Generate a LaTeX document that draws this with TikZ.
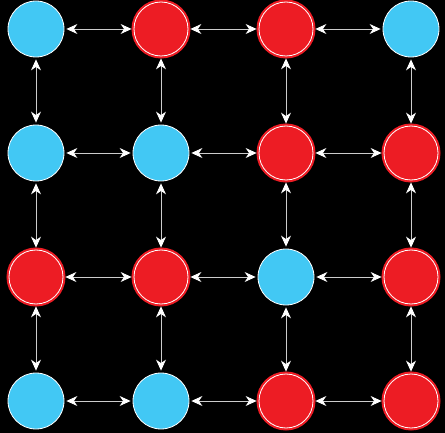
\documentclass[tikz,border=0pt]{standalone}
\usepackage{tikz}
\usetikzlibrary{arrows.meta}

\definecolor{cellred}{RGB}{237,28,36}
\definecolor{cellblue}{RGB}{66,200,244}

\tikzset{
  blueball/.style={circle, inner sep=0pt, minimum size=56pt, fill=cellblue,
    draw=white, line width=0.8pt},
  redball/.style={circle, inner sep=0pt, minimum size=54pt, fill=cellred,
    draw=white, line width=0.8pt, preaction={draw=cellred, line width=5pt}},
  link/.style={draw=white!80!black, line width=0.9pt,
    {Stealth[length=11pt, width=10pt, inset=3.5pt, color=white]}-{Stealth[length=11pt, width=10pt, inset=3.5pt, color=white]},
    shorten <=2pt, shorten >=2pt}
}

\begin{document}
\begin{tikzpicture}[x=1pt, y=-1pt]

    \fill[black] (0,0) rectangle (445,433);
    \useasboundingbox (0,0) rectangle (445,433);

    % first row
    \node[blueball] (a1) at (36,29) {};
    \node[redball]  (a2) at (161,29) {};
    \node[redball]  (a3) at (286,29) {};
    \node[blueball] (a4) at (411,29) {};

    % second row
    \node[blueball] (b1) at (36,153) {};
    \node[blueball] (b2) at (161,153) {};
    \node[redball]  (b3) at (286,153) {};
    \node[redball]  (b4) at (411,153) {};

    % third row
    \node[redball]  (c1) at (36,277) {};
    \node[redball]  (c2) at (161,277) {};
    \node[blueball] (c3) at (286,277) {};
    \node[redball]  (c4) at (411,277) {};

    % fourth row
    \node[blueball] (d1) at (36,401) {};
    \node[blueball] (d2) at (161,401) {};
    \node[redball]  (d3) at (286,401) {};
    \node[redball]  (d4) at (411,401) {};

    % horizontal links
    \draw[link] (a1) -- (a2);
    \draw[link] (a2) -- (a3);
    \draw[link] (a3) -- (a4);

    \draw[link] (b1) -- (b2);
    \draw[link] (b2) -- (b3);
    \draw[link] (b3) -- (b4);

    \draw[link] (c1) -- (c2);
    \draw[link] (c2) -- (c3);
    \draw[link] (c3) -- (c4);

    \draw[link] (d1) -- (d2);
    \draw[link] (d2) -- (d3);
    \draw[link] (d3) -- (d4);

    % vertical links
    \draw[link] (a1) -- (b1);
    \draw[link] (b1) -- (c1);
    \draw[link] (c1) -- (d1);

    \draw[link] (a2) -- (b2);
    \draw[link] (b2) -- (c2);
    \draw[link] (c2) -- (d2);

    \draw[link] (a3) -- (b3);
    \draw[link] (b3) -- (c3);
    \draw[link] (c3) -- (d3);

    \draw[link] (a4) -- (b4);
    \draw[link] (b4) -- (c4);
    \draw[link] (c4) -- (d4);

  \end{tikzpicture}
\end{document}
